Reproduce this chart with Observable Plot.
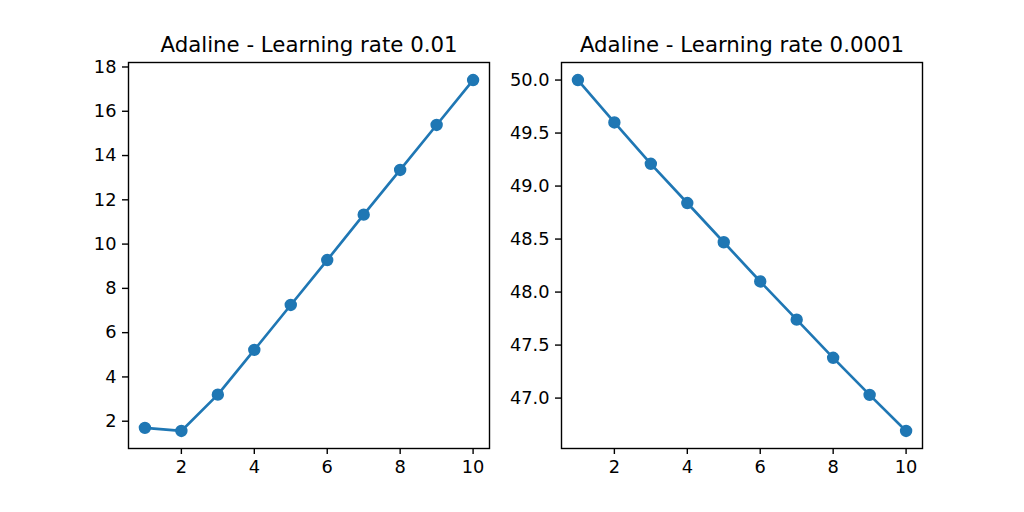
<!DOCTYPE html>
<html>
<head>
<meta charset="utf-8">
<script src="https://cdn.jsdelivr.net/npm/d3@7"></script>
<script src="https://cdn.jsdelivr.net/npm/@observablehq/plot@0.6"></script>
<style>
  html, body { margin: 0; padding: 0; background: #fff; }
  #wrap { position: relative; width: 1024px; height: 512px; overflow: hidden; font-family: "DejaVu Sans", sans-serif; }
  #wrap svg { position: absolute; top: 0; font-family: "DejaVu Sans", sans-serif !important; }
</style>
</head>
<body>
<div id="wrap"></div>
<script>
const epochs = [1, 2, 3, 4, 5, 6, 7, 8, 9, 10];
const costLr01 = [1.70, 1.56, 3.20, 5.22, 7.25, 9.28, 11.33, 13.35, 15.38, 17.41];
const costLr00001 = [50.00, 49.60, 49.21, 48.84, 48.47, 48.10, 47.74, 47.38, 47.03, 46.69];
const titles = ["Adaline - Learning rate 0.01", "Adaline - Learning rate 0.0001"];
const xTicks = [2, 4, 6, 8, 10];
const yTicksLeft = [2, 4, 6, 8, 10, 12, 14, 16, 18];
const yTicksRight = [47.0, 47.5, 48.0, 48.5, 49.0, 49.5, 50.0];

function padded(vals) {
  const lo = d3.min(vals), hi = d3.max(vals), p = 0.05 * (hi - lo);
  return [lo - p, hi + p];
}

function panel(values, title, yTicks, yFmt, m) {
  const data = epochs.map((e, i) => ({epoch: e, cost: values[i]}));
  return Plot.plot({
    width: 512,
    height: 512,
    marginLeft: m.left,
    marginRight: m.right,
    marginTop: 62,
    marginBottom: 64,
    style: {fontFamily: "DejaVu Sans", fontSize: "17.8px", color: "#000", background: "transparent", overflow: "visible"},
    x: {domain: padded(epochs)},
    y: {domain: padded(values)},
    marks: [
      Plot.axisX({ticks: xTicks, tickSize: 6, tickPadding: 6, strokeWidth: 1.4, tickFormat: d3.format("d"), label: null, fontSize: 17.8}),
      Plot.axisY({ticks: yTicks, tickSize: 6, tickPadding: 6, strokeWidth: 1.4, tickFormat: yFmt, label: null, fontSize: 17.8}),
      Plot.line(data, {x: "epoch", y: "cost", stroke: "#1f77b4", strokeWidth: 2.67}),
      Plot.dot(data, {x: "epoch", y: "cost", fill: "#1f77b4", stroke: "#1f77b4", strokeWidth: 1.6, r: 5.4}),
      Plot.frame({stroke: "#000", strokeWidth: 1.4}),
      Plot.text([title], {frameAnchor: "top", dy: -10.7, lineAnchor: "bottom", fontSize: 21.3, fill: "#000", text: d => d})
    ]
  });
}

const wrap = document.getElementById("wrap");
const left = panel(costLr01, titles[0], yTicksLeft, d3.format("d"), {left: 128, right: 23});
left.style.left = "0px";
wrap.appendChild(left);
const right = panel(costLr00001, titles[1], yTicksRight, d3.format(".1f"), {left: 49, right: 102});
right.style.left = "512px";
wrap.appendChild(right);
</script>
</body>
</html>
